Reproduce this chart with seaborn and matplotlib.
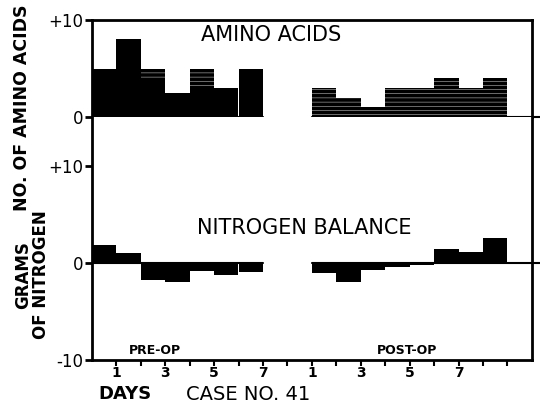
import numpy as np
import matplotlib
matplotlib.use("Agg")
import matplotlib.pyplot as plt
import seaborn as sns

# day positions (bar centres); pre-op days occupy 0-7, post-op days 9-17
pre_days = [0.5, 1.5, 2.5, 3.5, 4.5, 5.5, 6.5]
post_days = [9.5, 10.5, 11.5, 12.5, 13.5, 14.5, 15.5, 16.5]

# number of amino acids
amino_pre_total = [5, 8, 5, 2.5, 5, 3, 5]
amino_pre_solid = [5, 8, 4, 2.5, 3, 3, 5]
amino_post = [3, 2, 1, 3, 3, 4, 3, 4]

# nitrogen balance, grams
nitrogen_pre = [1.8, 1.0, -1.7, -2.0, -0.8, -1.2, -0.9]
nitrogen_post = [-1.0, -2.0, -0.7, -0.4, -0.2, 1.4, 1.1, 2.6]

tick_pos = list(range(1, 18))
tick_labels = {1: "1", 3: "3", 5: "5", 7: "7", 9: "1", 11: "3", 13: "5", 15: "7"}

sns.set_theme(style="ticks")
plt.rcParams['font.family'] = ['DejaVu Sans']
plt.rcParams['text.color'] = 'black'
plt.rcParams['hatch.linewidth'] = 0.3
plt.rcParams['hatch.color'] = 'white'

fig = plt.figure(figsize=(5.4, 4.07), dpi=100)
gs = fig.add_gridspec(2, 1, height_ratios=[10, 25], hspace=0,
                      left=0.170, right=0.985, top=0.951, bottom=0.115)
ax_top = fig.add_subplot(gs[0])
ax_bot = fig.add_subplot(gs[1], sharex=ax_top)

bar_kw = dict(native_scale=True, width=1, errorbar=None, saturation=1, linewidth=0)

# amino acids
sns.barplot(x=pre_days, y=amino_pre_total, color="black", edgecolor="white",
            hatch="----", ax=ax_top, **bar_kw)
sns.barplot(x=pre_days, y=amino_pre_solid, color="black", ax=ax_top, **bar_kw)
sns.barplot(x=post_days, y=amino_post, color="black", edgecolor="white",
            hatch="----", ax=ax_top, **bar_kw)

# nitrogen balance
sns.barplot(x=pre_days, y=nitrogen_pre, color="black", ax=ax_bot, **bar_kw)
sns.barplot(x=post_days, y=nitrogen_post, color="black", ax=ax_bot, **bar_kw)

for ax in (ax_top, ax_bot):
    ax.plot([0, 7], [0, 0], color="black", lw=1.5)
    ax.plot([9, 18.4], [0, 0], color="black", lw=1.5, clip_on=False)
    for s in ax.spines.values():
        s.set_linewidth(2)
        s.set_color("black")
    ax.set_xlabel("")
    ax.set_ylabel("")
    ax.tick_params(axis="y", direction="out", length=5, width=2, pad=1,
                   labelsize=12, colors="black")

ax_top.set_ylim(0, 10)
ax_top.spines["bottom"].set_visible(False)
ax_top.set_yticks([0, 10])
ax_top.set_yticklabels(["0", "+10"])
ax_top.tick_params(axis="x", bottom=False, labelbottom=False)

ax_bot.set_ylim(-10, 15)
ax_bot.spines["top"].set_visible(False)
ax_bot.set_yticks([-10, 0, 10])
ax_bot.set_yticklabels(["-10", "0", "+10"])

ax_bot.set_xlim(0, 18)
ax_bot.set_xticks(tick_pos)
ax_bot.set_xticklabels([tick_labels.get(t, "") for t in tick_pos],
                       fontsize=10, fontweight="bold")
ax_bot.tick_params(axis="x", direction="out", length=4, width=1.5, pad=0,
                   colors="black")

ax_top.text(7.35, 8.5, "AMINO ACIDS", fontsize=15, ha="center", va="center")
ax_bot.text(8.7, 3.6, "NITROGEN BALANCE", fontsize=15, ha="center", va="center")
ax_bot.text(2.6, -9.0, "PRE-OP", fontsize=9, fontweight="bold", ha="center", va="center")
ax_bot.text(12.9, -9.0, "POST-OP", fontsize=9, fontweight="bold", ha="center", va="center")

fig.text(22 / 540, 1 - 108 / 407, "NO. OF AMINO ACIDS", rotation=90, fontsize=12.5,
         fontweight="bold", ha="center", va="center")
fig.text(32 / 540, 1 - 275 / 407, "GRAMS\nOF NITROGEN", rotation=90, fontsize=12,
         fontweight="bold", ha="center", va="center", linespacing=0.95)
fig.text(125 / 540, 1 - 394 / 407, "DAYS", fontsize=13, fontweight="bold",
         ha="center", va="center")
fig.text(248 / 540, 1 - 394 / 407, "CASE NO. 41", fontsize=14,
         ha="center", va="center")

fig.savefig("out.png", dpi=100)
